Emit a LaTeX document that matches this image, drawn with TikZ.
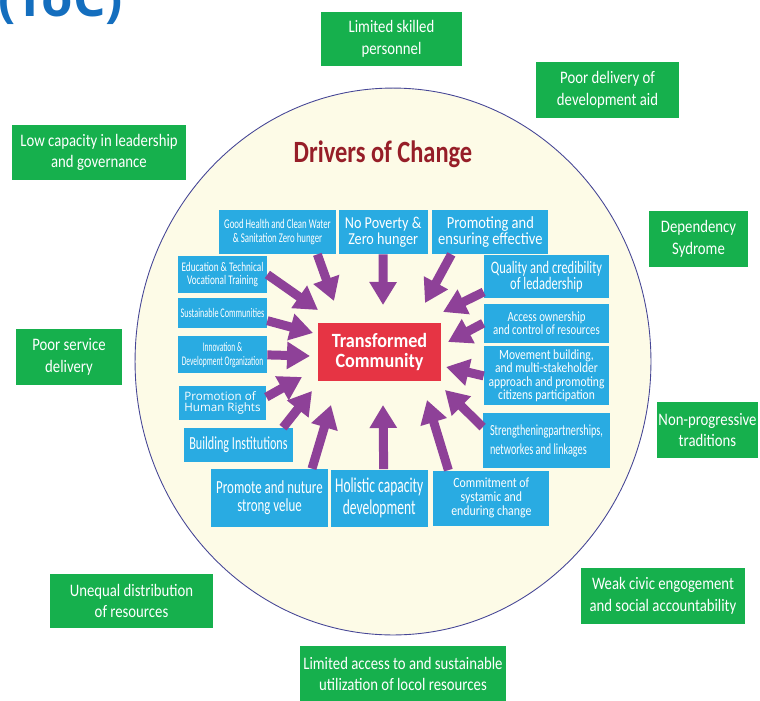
\documentclass[tikz,border=0pt]{standalone}
\usepackage{fontspec}
\setmainfont{Carlito}
\newfontfamily\opensans{Open Sans}
\usetikzlibrary{
  shapes.geometric,
  positioning,
  arrows.meta
}
\definecolor{greenc}{RGB}{22,176,77}
\definecolor{bluec}{RGB}{41,171,226}
\definecolor{purc}{RGB}{142,65,152}
\definecolor{redc}{RGB}{230,52,68}
\definecolor{creamc}{RGB}{253,251,231}
\definecolor{ringc}{RGB}{70,70,150}
\definecolor{darkred}{RGB}{150,30,40}
\definecolor{tocblue}{RGB}{20,110,190}
\newcommand\setfnt[3]{\fontsize{#1}{#2}\selectfont\addfontfeatures{FakeStretch=#3}}

\begin{document}
\begin{tikzpicture}[x=0.02cm, y=-0.02cm,
    grn/.style={fill=greenc, text=white, align=center, inner sep=0pt, font=\setfnt{10}{12.4}{0.84}},
    blu/.style={fill=bluec, text=white, align=center, inner sep=0pt},
    arr/.style={draw=purc, line width=1.8mm, -{Triangle[width=5.2mm,length=4.6mm]}}]
    \useasboundingbox (0,0) rectangle (760,700);

    \node[text=tocblue, font=\opensans\fontsize{29}{29}\selectfont\bfseries, anchor=base west, inner sep=0pt] (toc) at (-2,16) {(ToC)};

    \node[ellipse, draw=ringc, fill=creamc, line width=0.5pt, minimum width=10.32cm, minimum height=10.94cm, inner sep=0pt] (ring) at (393,361.5) {};
    \node[text=darkred, font=\bfseries\setfnt{17.6}{18}{0.79}, anchor=base] (doc) at (383,162) {Drivers of Change};

    \node[grn, minimum width=2.82cm, minimum height=1.08cm] (g1) at (391.5,39) {Limited skilled\\personnel};
    \node[grn, minimum width=2.86cm, minimum height=1.12cm] (g2) at (607.5,90) {Poor delivery of\\development aid};
    \node[grn, minimum width=3.48cm, minimum height=1.1cm] (g3) at (99,152.5) {Low capacity in leadership\\and governance};
    \node[grn, minimum width=1.98cm, minimum height=1.12cm] (g4) at (698.5,239) {Dependency\\Sydrome};
    \node[grn, minimum width=2.12cm, minimum height=1.12cm] (g5) at (69,357) {Poor service\\delivery};
    \node[grn, minimum width=2.02cm, minimum height=1.12cm] (g6) at (707.5,430) {Non-progressive\\traditions};
    \node[grn, minimum width=3.26cm, minimum height=1.08cm] (g7) at (131.5,601) {Unequal distribution\\of resources};
    \node[grn, minimum width=3.28cm, minimum height=1.12cm] (g8) at (663,596) {Weak civic engogement\\and social accountability};
    \node[grn, minimum width=4.12cm, minimum height=1.12cm] (g9) at (403,674) {Limited access to and sustainable\\utilization of locol resources};

    \node[fill=redc, text=white, align=center, inner sep=0pt, minimum width=2.46cm, minimum height=1.16cm, font=\bfseries\setfnt{11.5}{11.4}{0.9}] (tc) at (379.5,352) {Transformed\\Community};

    \node[blu, minimum width=2.34cm, minimum height=0.88cm, font=\setfnt{7.6}{8}{0.66}] (gh) at (277.5,232) {Good Health and Clean Water\\\& Sanitation Zero hunger};
    \node[blu, right=0.04cm of gh, minimum width=1.78cm, minimum height=0.88cm, font=\setfnt{9.5}{9}{0.85}] (np) {No Poverty \&\\Zero hunger};
    \node[blu, right=0.08cm of np, minimum width=2.32cm, minimum height=0.88cm, font=\setfnt{9.7}{9}{0.85}] (pe) {Promoting and\\ensuring effective};
    \node[blu, minimum width=2.5cm, minimum height=0.86cm, font=\setfnt{10}{9.2}{0.71}] (ql) at (546.5,276.5) {Quality and credibility\\of ledadership};
    \node[blu, below=0.1cm of ql, minimum width=2.52cm, minimum height=0.78cm, font=\setfnt{8}{7.2}{0.77}] (ac) {Access ownership\\and control of resources};
    \node[blu, below=0.06cm of ac, minimum width=2.5cm, minimum height=1.18cm, font=\setfnt{8}{7.7}{0.82}] (mb) {Movement building,\\and multi-stakeholder\\approach and promoting\\citizens participation};
    \node[blu, below=0.14cm of mb, minimum width=2.54cm, minimum height=1.1cm, align=left, font=\setfnt{8.8}{10.8}{0.66}] (sp) {Strengtheningpartnerships,\\networkes and linkages};
    \node[blu, minimum width=2.34cm, minimum height=1.16cm, font=\setfnt{10.5}{10.4}{0.7}] (pn) at (269.5,498) {Promote and nuture\\strong velue};
    \node[blu, right=0.04cm of pn, minimum width=1.94cm, minimum height=1.14cm, font=\setfnt{12}{12.8}{0.64}] (hc) {Holistic capacity\\development};
    \node[blu, right=0.1cm of hc, minimum width=2.32cm, minimum height=1.1cm, font=\setfnt{8}{8.1}{0.84}] (cm) {Commitment of\\systamic and\\enduring change};
    \node[blu, minimum width=2.18cm, minimum height=0.68cm, font=\setfnt{10.5}{10}{0.66}] (bi) at (238.5,445) {Building Institutions};
    \node[blu, minimum width=1.78cm, minimum height=0.74cm, font=\setfnt{7.5}{7.4}{0.7}] (et) at (222.5,274.5) {Education \& Technical\\Vocational Training};
    \node[blu, below=0.08cm of et, minimum width=1.78cm, minimum height=0.6cm, font=\setfnt{7.5}{8}{0.62}] (sc) {Sustainable Communities};
    \node[blu, below=0.16cm of sc, minimum width=1.78cm, minimum height=0.74cm, font=\setfnt{7.5}{8}{0.57}] (id) {Innovation \&\\Development Organization};
    \node[blu, below=0.24cm of id, minimum width=1.74cm, minimum height=0.68cm, align=left, font=\opensans\fontsize{6.6}{6.6}\selectfont] (ph) {Promotion of\\Human Rights};

    \coordinate (t1) at (334,301);
    \coordinate (t2) at (383,305);
    \coordinate (t3) at (425,303);
    \coordinate (t4) at (443,312);
    \coordinate (t5) at (448,342);
    \coordinate (t6) at (446,367);
    \coordinate (t7) at (445,390);
    \coordinate (t8) at (427,400);
    \coordinate (t9) at (383,405);
    \coordinate (t10) at (331,405);
    \coordinate (t11) at (312,391);
    \coordinate (t12) at (302,377);
    \coordinate (t13) at (310,356);
    \coordinate (t14) at (313,333);
    \coordinate (t15) at (318,310);

    \draw[arr] ([xshift=-0.38cm]gh.south east) -- (t1);
    \draw[arr] (np.south) -- (t2);
    \draw[arr] ([xshift=-0.78cm]pe.south) -- (t3);
    \draw[arr] ([yshift=-0.31cm]ql.west) -- (t4);
    \draw[arr] (ac.west) -- (t5);
    \draw[arr] (mb.west) -- (t6);
    \draw[arr] ([yshift=0.27cm]sp.west) -- (t7);
    \draw[arr] ([xshift=-0.86cm]cm.north) -- (t8);
    \draw[arr] ([xshift=0.09cm]hc.north) -- (t9);
    \draw[arr] ([xshift=0.85cm]pn.north) -- (t10);
    \draw[arr] ([xshift=0.89cm]bi.north) -- (t11);
    \draw[arr] ([yshift=0.12cm]ph.east) -- (t12);
    \draw[arr] (id.east) -- (t13);
    \draw[arr] ([yshift=-0.16cm]sc.east) -- (t14);
    \draw[arr] (et.east) -- (t15);
\end{tikzpicture}
\end{document}
